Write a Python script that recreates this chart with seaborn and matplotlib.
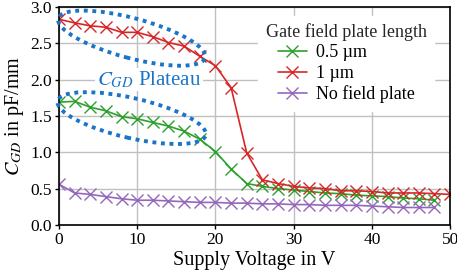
import numpy as np
import pandas as pd
import matplotlib
matplotlib.use("Agg")
import matplotlib.pyplot as plt
from matplotlib.patches import Ellipse
import seaborn as sns

# supply voltage sweep (V)
voltage = list(range(0, 50, 2))
voltage_1um = list(range(0, 52, 2))

# C_GD in pF/mm
cgd_05um = [1.69, 1.70, 1.62, 1.57, 1.49, 1.46, 1.41, 1.36, 1.29, 1.18,
            1.01, 0.77, 0.57, 0.53, 0.50, 0.48, 0.46, 0.44, 0.43, 0.41,
            0.40, 0.39, 0.37, 0.36, 0.34]
cgd_1um = [2.83, 2.78, 2.74, 2.72, 2.65, 2.65, 2.59, 2.51, 2.46, 2.32,
           2.19, 1.89, 0.99, 0.62, 0.57, 0.53, 0.51, 0.50, 0.47, 0.47,
           0.46, 0.44, 0.44, 0.44, 0.43, 0.42]
cgd_none = [0.56, 0.44, 0.42, 0.39, 0.36, 0.34, 0.34, 0.33, 0.32, 0.31,
            0.31, 0.30, 0.30, 0.29, 0.29, 0.28, 0.28, 0.27, 0.27, 0.27,
            0.26, 0.25, 0.24, 0.24, 0.24]

labels = ["0.5 µm", "1 µm", "No field plate"]
colors = ["#2ca02c", "#d62728", "#9467bd"]

df = pd.concat([
    pd.DataFrame({"V": voltage, "C": cgd_05um, "len": labels[0]}),
    pd.DataFrame({"V": voltage_1um, "C": cgd_1um, "len": labels[1]}),
    pd.DataFrame({"V": voltage, "C": cgd_none, "len": labels[2]}),
])

sns.set_theme(style="whitegrid")
plt.rcParams["font.family"] = ["Liberation Serif", "DejaVu Serif"]
plt.rcParams["mathtext.fontset"] = "stix"

fig = plt.figure(figsize=(4.57, 2.76), dpi=100)
ax = fig.add_axes([0.129, 0.185, 0.856, 0.790])

sns.lineplot(data=df, x="V", y="C", hue="len", hue_order=labels,
             palette=colors, marker="x", markersize=8, markeredgewidth=1.0,
             linewidth=1.2, ax=ax)
# seaborn gives markers a white edge; x markers need the line colour
for ln in ax.lines:
    ln.set_markeredgecolor(ln.get_color())

ax.set_xlim(0, 50)
ax.set_ylim(0, 3.0)
ax.set_xticks([0, 10, 20, 30, 40, 50])
ax.set_yticks(np.arange(0, 3.01, 0.5))
ax.yaxis.set_major_formatter(matplotlib.ticker.FormatStrFormatter("%.1f"))
ax.tick_params(labelsize=12.5, length=3, width=1, pad=2, colors="black",
               bottom=True, left=True)
ax.grid(True, color="#c0c0c0", linewidth=1.0)
for s in ax.spines.values():
    s.set_color("black")
    s.set_linewidth(1.2)

ax.set_xlabel("Supply Voltage in V", fontsize=14.5, color="black", labelpad=2)
ax.set_ylabel(r"$C_{GD}$ in pF/mm", fontsize=14.5, color="black", labelpad=3)

leg = ax.legend(title="Gate field plate length", loc="upper right",
                bbox_to_anchor=(1.0, 1.035),
                fontsize=13, title_fontsize=13, frameon=True,
                framealpha=1, edgecolor="white", handlelength=1.6,
                borderaxespad=0.9, labelspacing=0.2, handletextpad=0.5)
for t in leg.get_texts():
    t.set_color("black")
for h in leg.legend_handles:
    h.set_markeredgecolor(h.get_color())

# dotted ellipses marking the plateaus (drawn in pixel space)
blue = "#1a75c8"
def plateau(cx, cy, w, h, ang):
    px, py = ax.transData.transform((cx, cy))
    e = Ellipse((px, py), w, h, angle=ang, transform=None, fill=False,
                edgecolor=blue, linestyle=(0, (1, 1.2)), linewidth=2.8,
                clip_on=False)
    fig.patches.append(e)

fig.canvas.draw()
plateau(9.3, 2.57, 152, 40, -15)
plateau(9.3, 1.47, 152, 40, -13)

ax.text(11.5, 2.0, r"$C_{GD}$ Plateau", color=blue, fontsize=15,
        ha="center", va="center",
        bbox=dict(facecolor="white", edgecolor="none", pad=1))

fig.savefig("out.png", dpi=100)
